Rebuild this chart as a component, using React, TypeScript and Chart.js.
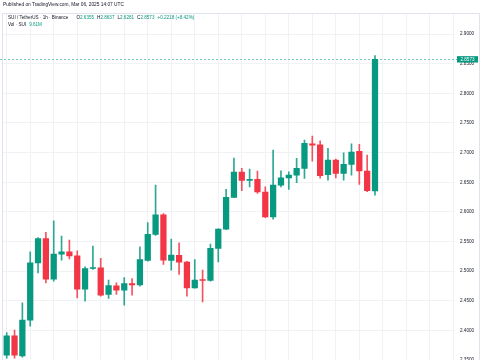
import React, { useEffect, useRef } from "react";
import { Chart, registerables } from "chart.js";

Chart.register(...registerables);

// ---- Data (SUI / TetherUS, 1h candles) ----
const openP = [2.3583, 2.3909, 2.3571, 2.4174, 2.5141, 2.5552, 2.4866, 2.5288, 2.5326, 2.5259, 2.4697, 2.5046, 2.5056, 2.4607, 2.4753, 2.4680, 2.4793, 2.4770, 2.5182, 2.5620, 2.5951, 2.5181, 2.5266, 2.5152, 2.4719, 2.4849, 2.4843, 2.5384, 2.5709, 2.6244, 2.6671, 2.6531, 2.6548, 2.6334, 2.5917, 2.6452, 2.6575, 2.6621, 2.6734, 2.7149, 2.7132, 2.6626, 2.6874, 2.6649, 2.6801, 2.7021, 2.6688, 2.6355];
const closeP = [2.3909, 2.3583, 2.4174, 2.5141, 2.5552, 2.4866, 2.5288, 2.5326, 2.5259, 2.4697, 2.5046, 2.5050, 2.4596, 2.4759, 2.4680, 2.4793, 2.4770, 2.5198, 2.5620, 2.5951, 2.5186, 2.5271, 2.5152, 2.4719, 2.4849, 2.4843, 2.5384, 2.5709, 2.6244, 2.6671, 2.6531, 2.6548, 2.6339, 2.5917, 2.6452, 2.6575, 2.6621, 2.6734, 2.7156, 2.7127, 2.6609, 2.6874, 2.6649, 2.6801, 2.7009, 2.6693, 2.6356, 2.8573];
const highP = [2.3966, 2.4005, 2.4466, 2.5326, 2.5569, 2.5654, 2.5849, 2.5591, 2.5524, 2.5343, 2.5073, 2.5422, 2.5215, 2.4849, 2.4803, 2.4894, 2.4877, 2.5411, 2.5822, 2.6452, 2.5971, 2.5541, 2.5478, 2.5165, 2.5198, 2.5017, 2.5456, 2.5715, 2.6379, 2.6907, 2.6734, 2.6722, 2.6688, 2.6423, 2.7042, 2.6693, 2.6676, 2.6902, 2.7211, 2.7279, 2.7200, 2.7071, 2.6890, 2.6997, 2.7149, 2.7139, 2.6958, 2.8637];
const lowP = [2.3533, 2.3533, 2.3549, 2.4072, 2.4972, 2.4803, 2.4832, 2.5186, 2.5208, 2.4550, 2.4494, 2.5030, 2.4580, 2.4540, 2.4607, 2.4427, 2.4596, 2.4748, 2.5169, 2.5603, 2.5114, 2.5017, 2.4945, 2.4579, 2.4714, 2.4483, 2.4830, 2.5158, 2.5700, 2.6240, 2.6356, 2.6423, 2.6312, 2.5904, 2.5878, 2.6423, 2.6379, 2.6491, 2.6565, 2.6857, 2.6570, 2.6536, 2.6575, 2.6536, 2.6621, 2.6464, 2.6340, 2.6281];
const priceTicks = [2.3, 2.35, 2.4, 2.45, 2.5, 2.55, 2.6, 2.65, 2.7, 2.75, 2.8, 2.85, 2.9];
const timeGridBars = [1, 4, 7, 10, 13, 16, 19, 22, 25, 28, 31, 34, 37, 40, 43, 46, 49, 52, 55, 58];
const lastClose = 2.8573;
const headerStats = { o: "2.6355", h: "2.8637", l: "2.6281", c: "2.8573", chg: "+0.2218 (+8.42%)", vol: "9.61M" };

const UP = "#089981";
const DOWN = "#F23645";
const FONT = "'Liberation Sans', Arial, sans-serif";

export default function App() {
  const ref = useRef<HTMLCanvasElement | null>(null);

  useEffect(() => {
    if (!ref.current) return;
    const colors = openP.map((o, i) => (closeP[i] >= o ? UP : DOWN));
    const wickColors = openP.map((o, i) => (closeP[i] >= o ? "rgba(8,153,129,0.85)" : "rgba(242,54,69,0.85)"));

    const closeLine = {
      id: "closeLine",
      afterDatasetsDraw(chart: any) {
        const { ctx, chartArea, scales } = chart;
        const y = Math.round(scales.y.getPixelForValue(lastClose)) + 0.5;
        ctx.save();
        ctx.setLineDash([2, 2]);
        ctx.strokeStyle = "rgba(8,153,129,0.55)";
        ctx.lineWidth = 1;
        ctx.beginPath();
        ctx.moveTo(0, y);
        ctx.lineTo(chartArea.right + 2, y);
        ctx.stroke();
        ctx.restore();
      },
      afterDraw(chart: any) {
        const { ctx, chartArea, scales } = chart;
        const y = scales.y.getPixelForValue(lastClose);
        const x0 = chartArea.right + 2;
        ctx.save();
        ctx.fillStyle = UP;
        ctx.fillRect(x0, y - 3.2, 21, 6.4);
        ctx.fillStyle = "#ffffff";
        ctx.font = `4.6px ${FONT}`;
        ctx.textAlign = "center";
        ctx.textBaseline = "middle";
        ctx.fillText(lastClose.toFixed(4), x0 + 10.5, y + 0.2);
        ctx.restore();
      },
    };

    const chart = new Chart(ref.current, {
      type: "bar",
      data: {
        datasets: [
          {
            label: "body",
            data: openP.map((o, i) => ({ x: i + 1, y: [o, closeP[i]] })) as any,
            backgroundColor: colors,
            borderWidth: 0,
            barThickness: 5.6,
            minBarLength: 1,
            grouped: false,
          } as any,
          {
            label: "wick",
            data: lowP.map((l, i) => ({ x: i + 1, y: [l, highP[i]] })) as any,
            backgroundColor: wickColors,
            borderWidth: 0,
            barThickness: 1,
            grouped: false,
          } as any,
        ],
      },
      options: {
        animation: false,
        responsive: false,
        maintainAspectRatio: false,
        layout: { padding: { left: 2, top: 14, right: 0, bottom: 0 } },
        plugins: { legend: { display: false }, tooltip: { enabled: false } },
        scales: {
          x: {
            type: "linear",
            offset: false,
            min: 0.4,
            max: 58.21,
            ticks: { display: false },
            grid: { color: "#f1f2f5", drawTicks: false, lineWidth: 1, offset: false },
            border: { display: false },
            afterBuildTicks: (s: any) => {
              s.ticks = timeGridBars.map((v) => ({ value: v }));
            },
            afterFit: (s: any) => {
              s.height = 0;
            },
          },
          y: {
            type: "linear",
            position: "right",
            min: 2.28238,
            max: 2.93375,
            afterBuildTicks: (s: any) => {
              s.ticks = priceTicks.map((v) => ({ value: v }));
            },
            afterFit: (s: any) => {
              s.width = 26;
            },
            ticks: {
              color: "#131722",
              font: { size: 4.6, family: FONT },
              padding: 5,
              callback: (v: any) => Number(v).toFixed(4),
            },
            grid: { color: "#f1f2f5", drawTicks: false, lineWidth: 1 },
            border: { display: false },
          },
        },
      },
      plugins: [closeLine],
    });
    return () => chart.destroy();
  }, []);

  const green = { color: UP };
  return (
    <div style={{ position: "fixed", left: 0, top: 0, width: 485, height: 360, overflow: "hidden", background: "#fff", fontFamily: FONT, color: "#131722" }}>
      <canvas ref={ref} width={481} height={408} style={{ position: "absolute", left: 0, top: 0, width: 481, height: 408 }} />
      <div style={{ position: "absolute", left: 2, top: 13, width: 478, height: 360, borderTop: "1px solid #e0e3eb", borderRight: "1px solid #e0e3eb", borderLeft: "1px solid #e0e3eb", boxSizing: "border-box", pointerEvents: "none" }} />
      <div style={{ position: "absolute", left: 3, top: 2, fontSize: 4.8, lineHeight: "6px", whiteSpace: "nowrap" }}>
        Published on TradingView.com, Mar 06, 2025 14:07 UTC
      </div>
      <div style={{ position: "absolute", left: 8, top: 15, fontSize: 4.6, lineHeight: "6px", whiteSpace: "nowrap" }}>
        <span>SUI / TetherUS · 1h · Binance</span>
        <span style={{ marginLeft: 8 }}>O</span><span style={green}>{headerStats.o}</span>
        <span style={{ marginLeft: 3 }}>H</span><span style={green}>{headerStats.h}</span>
        <span style={{ marginLeft: 3 }}>L</span><span style={green}>{headerStats.l}</span>
        <span style={{ marginLeft: 3 }}>C</span><span style={green}>{headerStats.c}</span>
        <span style={{ ...green, marginLeft: 3 }}>{headerStats.chg}</span>
      </div>
      <div style={{ position: "absolute", left: 8, top: 22, fontSize: 4.6, lineHeight: "6px", whiteSpace: "nowrap" }}>
        <span>Vol · SUI</span>
        <span style={{ ...green, marginLeft: 3 }}>{headerStats.vol}</span>
      </div>
    </div>
  );
}
